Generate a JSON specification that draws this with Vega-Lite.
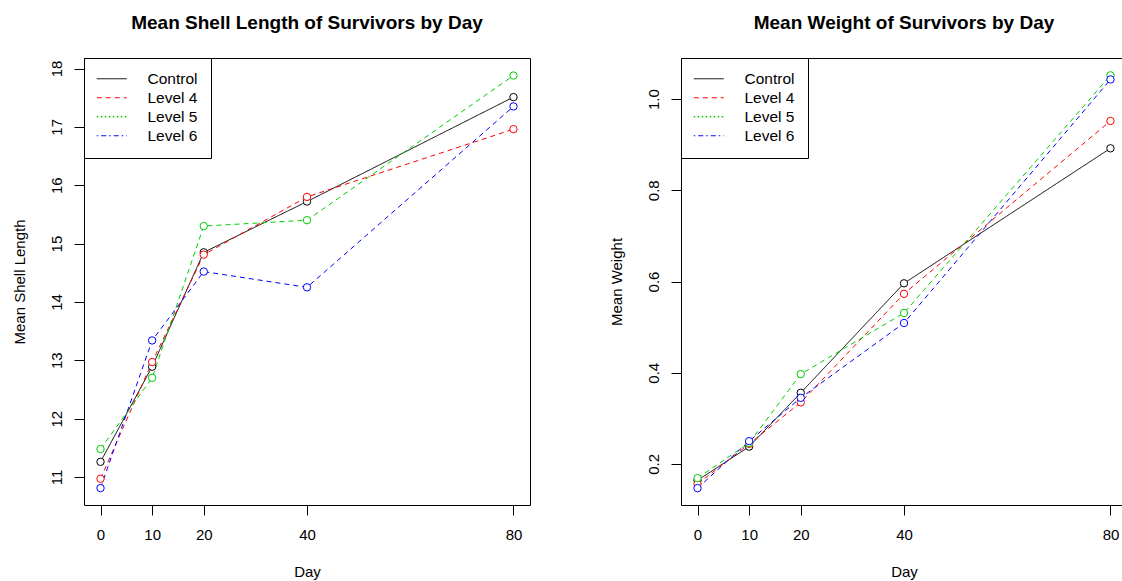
{
  "$schema": "https://vega.github.io/schema/vega-lite/v6.json",
  "padding": {"left": 11, "top": 13, "right": 0, "bottom": 0},
  "background": "white",
  "datasets": {
    "shell": [
      {"day": 0, "group": "Control", "value": 11.26},
      {"day": 10, "group": "Control", "value": 12.89},
      {"day": 20, "group": "Control", "value": 14.85},
      {"day": 40, "group": "Control", "value": 15.72},
      {"day": 80, "group": "Control", "value": 17.51},
      {"day": 0, "group": "Level 4", "value": 10.97},
      {"day": 10, "group": "Level 4", "value": 12.97},
      {"day": 20, "group": "Level 4", "value": 14.81},
      {"day": 40, "group": "Level 4", "value": 15.80},
      {"day": 80, "group": "Level 4", "value": 16.96},
      {"day": 0, "group": "Level 5", "value": 11.48},
      {"day": 10, "group": "Level 5", "value": 12.70},
      {"day": 20, "group": "Level 5", "value": 15.30},
      {"day": 40, "group": "Level 5", "value": 15.40},
      {"day": 80, "group": "Level 5", "value": 17.88},
      {"day": 0, "group": "Level 6", "value": 10.81},
      {"day": 10, "group": "Level 6", "value": 13.34},
      {"day": 20, "group": "Level 6", "value": 14.52},
      {"day": 40, "group": "Level 6", "value": 14.25},
      {"day": 80, "group": "Level 6", "value": 17.35}
    ],
    "weight": [
      {"day": 0, "group": "Control", "value": 0.164},
      {"day": 10, "group": "Control", "value": 0.238},
      {"day": 20, "group": "Control", "value": 0.356},
      {"day": 40, "group": "Control", "value": 0.596},
      {"day": 80, "group": "Control", "value": 0.892},
      {"day": 0, "group": "Level 4", "value": 0.156},
      {"day": 10, "group": "Level 4", "value": 0.244},
      {"day": 20, "group": "Level 4", "value": 0.335},
      {"day": 40, "group": "Level 4", "value": 0.573},
      {"day": 80, "group": "Level 4", "value": 0.952},
      {"day": 0, "group": "Level 5", "value": 0.169},
      {"day": 10, "group": "Level 5", "value": 0.246},
      {"day": 20, "group": "Level 5", "value": 0.397},
      {"day": 40, "group": "Level 5", "value": 0.531},
      {"day": 80, "group": "Level 5", "value": 1.052},
      {"day": 0, "group": "Level 6", "value": 0.147},
      {"day": 10, "group": "Level 6", "value": 0.250},
      {"day": 20, "group": "Level 6", "value": 0.345},
      {"day": 40, "group": "Level 6", "value": 0.509},
      {"day": 80, "group": "Level 6", "value": 1.043}
    ]
  },
  "spacing": 77,
  "resolve": {"legend": {"color": "independent"}},
  "hconcat": [
    {
      "width": 446,
      "height": 447,
      "title": {"text": "Mean Shell Length of Survivors by Day"},
      "data": {"name": "shell"},
      "encoding": {
        "x": {"field": "day", "type": "quantitative", "title": "Day",
              "scale": {"domain": [-3.2, 83.2], "nice": false, "zero": false},
              "axis": {"values": [0, 10, 20, 40, 80]}},
        "y": {"field": "value", "type": "quantitative", "title": "Mean Shell Length",
              "scale": {"domain": [10.52, 18.18], "nice": false, "zero": false},
              "axis": {"values": [11, 12, 13, 14, 15, 16, 17, 18]}},
        "color": {"field": "group", "type": "nominal",
                  "scale": {"domain": ["Control", "Level 4", "Level 5", "Level 6"], "range": ["#000000", "#FF0000", "#00CD00", "#0000FF"]},
                  "legend": {"encode": {"symbols": {"update": {
                    "strokeDash": {"signal": "datum.value == 'Level 4' ? [5,4] : datum.value == 'Level 5' ? [1.5,2.5] : datum.value == 'Level 6' ? [1.5,3,5,3] : [1,0]"},
                    "stroke": {"signal": "datum.value == 'Level 4' ? '#FF0000' : datum.value == 'Level 5' ? '#00CD00' : datum.value == 'Level 6' ? '#0000FF' : '#000000'"},
                    "strokeWidth": {"signal": "datum.value == 'Level 5' ? 1.6 : 1"},
                    "strokeOpacity": {"value": 1}}}}}}
      },
      "layer": [
        {"mark": {"type": "line", "strokeWidth": 1},
         "encoding": {"strokeDash": {"field": "group", "type": "nominal", "legend": null,
                      "scale": {"domain": ["Control", "Level 4", "Level 5", "Level 6"], "range": [[1, 0], [5, 4], [5, 4], [5, 4]]}}}},
        {"mark": {"type": "point", "filled": false, "fill": "white", "size": 55, "strokeWidth": 1, "opacity": 1}}
      ]
    },
    {
      "width": 446,
      "height": 447,
      "title": {"text": "Mean Weight of Survivors by Day"},
      "data": {"name": "weight"},
      "encoding": {
        "x": {"field": "day", "type": "quantitative", "title": "Day",
              "scale": {"domain": [-3.2, 83.2], "nice": false, "zero": false},
              "axis": {"values": [0, 10, 20, 40, 80]}},
        "y": {"field": "value", "type": "quantitative", "title": "Mean Weight",
              "scale": {"domain": [0.110, 1.090], "nice": false, "zero": false},
              "axis": {"values": [0.2, 0.4, 0.6, 0.8, 1.0], "format": ".1f"}},
        "color": {"field": "group", "type": "nominal",
                  "scale": {"domain": ["Control", "Level 4", "Level 5", "Level 6"], "range": ["#000000", "#FF0000", "#00CD00", "#0000FF"]},
                  "legend": {"encode": {"symbols": {"update": {
                    "strokeDash": {"signal": "datum.value == 'Level 4' ? [5,4] : datum.value == 'Level 5' ? [1.5,2.5] : datum.value == 'Level 6' ? [1.5,3,5,3] : [1,0]"},
                    "stroke": {"signal": "datum.value == 'Level 4' ? '#FF0000' : datum.value == 'Level 5' ? '#00CD00' : datum.value == 'Level 6' ? '#0000FF' : '#000000'"},
                    "strokeWidth": {"signal": "datum.value == 'Level 5' ? 1.6 : 1"},
                    "strokeOpacity": {"value": 1}}}}}}
      },
      "layer": [
        {"mark": {"type": "line", "strokeWidth": 1},
         "encoding": {"strokeDash": {"field": "group", "type": "nominal", "legend": null,
                      "scale": {"domain": ["Control", "Level 4", "Level 5", "Level 6"], "range": [[1, 0], [5, 4], [5, 4], [5, 4]]}}}},
        {"mark": {"type": "point", "filled": false, "fill": "white", "size": 55, "strokeWidth": 1, "opacity": 1}}
      ]
    }
  ],
  "config": {
    "font": "Liberation Sans",
    "view": {"stroke": "#000000", "strokeWidth": 1},
    "title": {"fontSize": 19, "fontWeight": "bold", "color": "#000000", "anchor": "middle", "frame": "group", "offset": 25},
    "axis": {
      "domain": false, "grid": false,
      "tickColor": "#000000", "tickSize": 10, "tickWidth": 1,
      "labelColor": "#000000", "labelFontSize": 15,
      "titleColor": "#000000", "titleFontSize": 15, "titleFontWeight": "normal"
    },
    "axisX": {"labelPadding": 12.5, "titlePadding": 22},
    "axisY": {"labelAngle": -90, "labelAlign": "center", "labelBaseline": "bottom", "labelPadding": 9.5, "titlePadding": 22.5},
    "legend": {
      "orient": "top-left", "offset": 0, "title": null,
      "strokeColor": "#000000", "fillColor": "white", "padding": 13, "cornerRadius": 0,
      "symbolType": "M-1.5,0H1.5", "symbolSize": 400, "symbolStrokeWidth": 1, "symbolFillColor": "transparent",
      "symbolOffset": 7,
      "labelFontSize": 15.5, "labelColor": "#000000", "labelOffset": 28, "rowPadding": 2
    }
  }
}
